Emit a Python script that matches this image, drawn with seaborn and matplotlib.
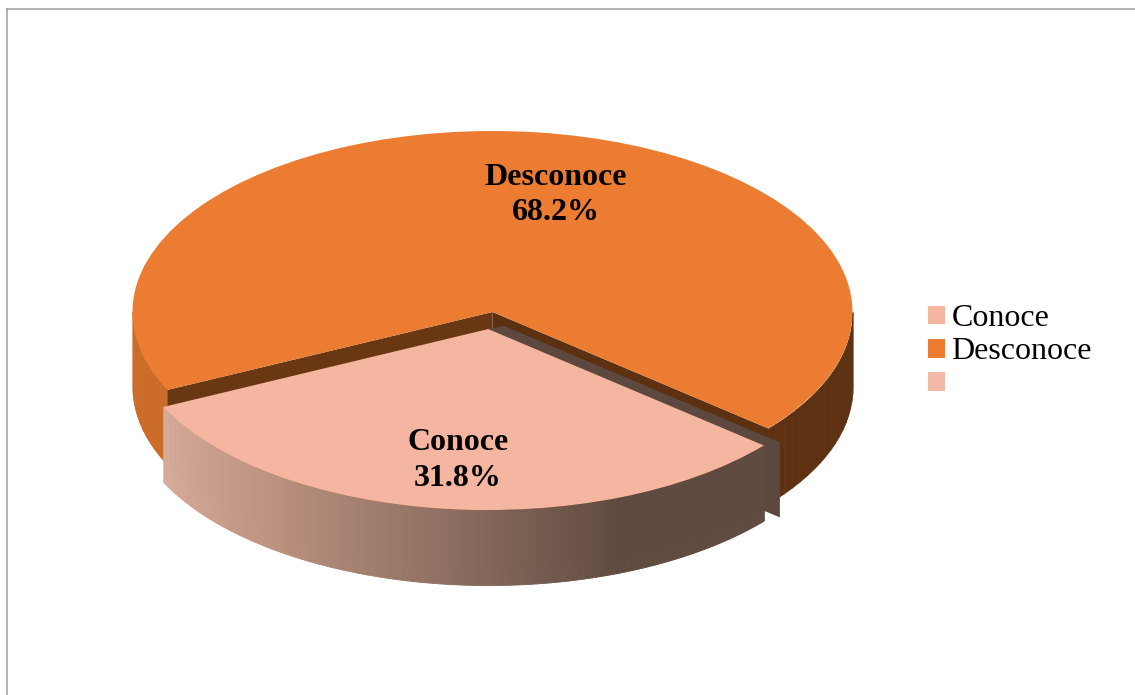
import numpy as np
import matplotlib.pyplot as plt
import seaborn as sns

categories = ['Conoce', 'Desconoce', '']
values = [31.8, 68.2, 0]
colors = ['#f4b6a0', '#eb7c31', '#f4b9a6']
explode = [0.095, 0, 0]
start_angle = 205.5

# pie geometry in pixels of the 1135x695 picture
cx, cy, rx, ry = 492.5, 312, 360, 181
depth = 75 / ry

sns.set_theme(style='white')
plt.rcParams['font.family'] = ['Liberation Serif', 'DejaVu Serif']

fig = plt.figure(figsize=(11.35, 6.95), dpi=100)
ax = fig.add_axes([6.5 / 1135, 0, 1128.5 / 1135, 686.5 / 695])

wedges, _ = ax.pie(values, colors=colors, startangle=start_angle, explode=explode,
                   radius=1, wedgeprops={'linewidth': 0})

ax.set_aspect('auto')
ax.set_xlim((6.5 - cx) / rx, (1135 - cx) / rx)
ax.set_ylim((cy - 695) / ry, (cy - 8.5) / ry)
ax.set_frame_on(True)
for side in ['right', 'bottom']:
    ax.spines[side].set_visible(False)
for side in ['top', 'left']:
    ax.spines[side].set_color('#a6a6a6')
    ax.spines[side].set_linewidth(1.2)
    ax.spines[side].set_capstyle('butt')


def point(angle, center=(0, 0)):
    a = np.radians(angle)
    return center[0] + np.cos(a), center[1] + np.sin(a)


def rim(a0, a1, center, palette, z):
    # outer wall built of thin strips, one colour each
    n = len(palette)
    t = np.radians(np.linspace(a0, a1, n + 1))
    x = center[0] + np.cos(t)
    y = center[1] + np.sin(t)
    for i in range(n):
        ax.fill_between(x[i:i + 2], y[i:i + 2], y[i:i + 2] - depth,
                        color=palette[i], linewidth=0.6, zorder=z)


split = start_angle + values[0] * 3.6
mid = start_angle + values[0] * 1.8
conoce_center = (explode[0] * np.cos(np.radians(mid)), explode[0] * np.sin(np.radians(mid)))

# Desconoce walls
rim(180, 270, (0, 0), ['#cb6c2a'] * 40, 1)
rim(270, 360, (0, 0), ['#5e3112'] * 40, 1)
for angle, shade in [(start_angle, '#6a3713'), (split, '#5d3011')]:
    ex, ey = point(angle)
    ax.fill([0, ex, ex, 0], [0, ey, ey - depth, -depth], color=shade, linewidth=0, zorder=1.5)
wedges[1].set_zorder(2)

# back face of the pulled-out slice
ex, ey = point(split, conoce_center)
ox, oy = 16 / rx, 3 / ry
ax.fill([conoce_center[0] + ox, ex + ox, ex + ox, ex, ex, conoce_center[0]],
        [conoce_center[1] + oy, ey + oy, ey + oy - depth, ey - depth * 0.87, ey, conoce_center[1]],
        color='#5c483e', linewidth=0, zorder=3)

# front wall of Conoce, fading from pale to dark brown
front = sns.blend_palette(['#d8ac9b', '#bb917f', '#8f7062', '#604b40', '#604b40'], 200)
rim(start_angle, split, conoce_center, front, 4)
wedges[0].set_zorder(5)

ax.text((556 - cx) / rx, (cy - 195) / ry, f'{categories[1]}\n{values[1]}%', ha='center', va='center',
        fontsize=23, fontweight='bold', color='black', linespacing=1.28, zorder=6)
ax.text((458 - cx) / rx, (cy - 460.5) / ry, f'{categories[0]}\n{values[0]}%', ha='center', va='center',
        fontsize=23, fontweight='bold', color='black', linespacing=1.28, zorder=6)

ax.legend(wedges, categories, loc='center left', bbox_to_anchor=(928 / 1135, 1 - 352 / 695),
          bbox_transform=fig.transFigure, frameon=False, fontsize=23, labelcolor='black',
          handlelength=0.53, handleheight=0.53, handletextpad=0.2, labelspacing=0.13, borderpad=0,
          borderaxespad=0)

fig.savefig('out.png', dpi=100)
